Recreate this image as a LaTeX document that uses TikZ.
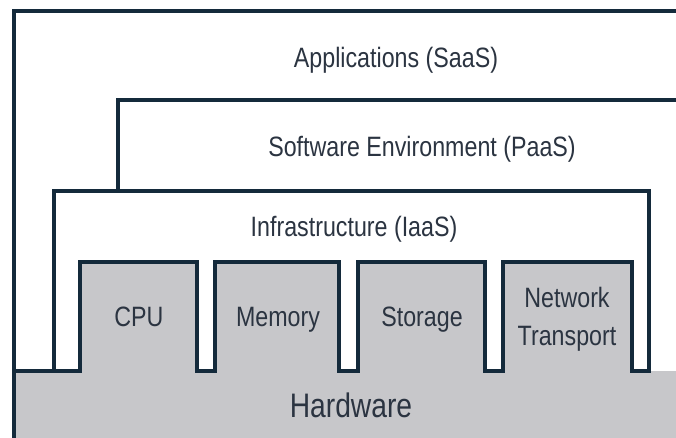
\documentclass[tikz,border=0pt]{standalone}
\usepackage{fontspec}
\newfontfamily\layerfont{Liberation Sans}[FakeStretch=0.83]
\definecolor{frameblue}{HTML}{142A3B}
\definecolor{labelgray}{HTML}{2B3441}
\definecolor{hwgray}{HTML}{C7C7CA}

\begin{document}
\begin{tikzpicture}[x=1pt, y=-1pt,
    frame/.style={draw=frameblue, line width=3.8pt},
    layerlabel/.style={font=\layerfont\fontsize{28}{38}\selectfont,
                       text=labelgray, anchor=base, inner sep=0pt, align=center}]
  \useasboundingbox (0,0) rectangle (676,438);
  \fill[white] (0,0) rectangle (676,438);
  \clip (0,0) rectangle (676,438);

  % Hardware base and resource blocks
  \fill[hwgray] (14,371) rectangle (680,440);
  \foreach \l/\r in {80/197, 215/339, 358/485, 503/632}
    \fill[hwgray] (\l,262) rectangle (\r,372);

  % Layer frames
  \draw[frame] (14,440) -- (14,11) -- (680,11);
  \draw[frame] (118,191) -- (118,100) -- (680,100);
  \draw[frame] (54,371) -- (54,191) -- (649,191) -- (649,371);
  \draw[frame] (14,371) -- (80,371) -- (80,262) -- (197,262) -- (197,371)
    -- (215,371) -- (215,262) -- (339,262) -- (339,371)
    -- (358,371) -- (358,262) -- (485,262) -- (485,371)
    -- (503,371) -- (503,262) -- (632,262) -- (632,371) -- (651,371);

  % Layer labels
  \node[layerlabel] (saas) at (396,68) {Applications (SaaS)};
  \node[layerlabel] (paas) at (422,157) {Software Environment (PaaS)};
  \node[layerlabel] (iaas) at (354,236) {Infrastructure (IaaS)};
  \foreach \n/\x/\t in {cpu/139/CPU, mem/278/Memory, sto/422/Storage}
    \node[layerlabel] (\n) at (\x,326) {\t};
  \node[layerlabel] (net) at (567,345) {Network\\Transport};
  \node[layerlabel, font=\layerfont\fontsize{34}{40}\selectfont]
    (hw) at (351,417) {Hardware};
\end{tikzpicture}
\end{document}
